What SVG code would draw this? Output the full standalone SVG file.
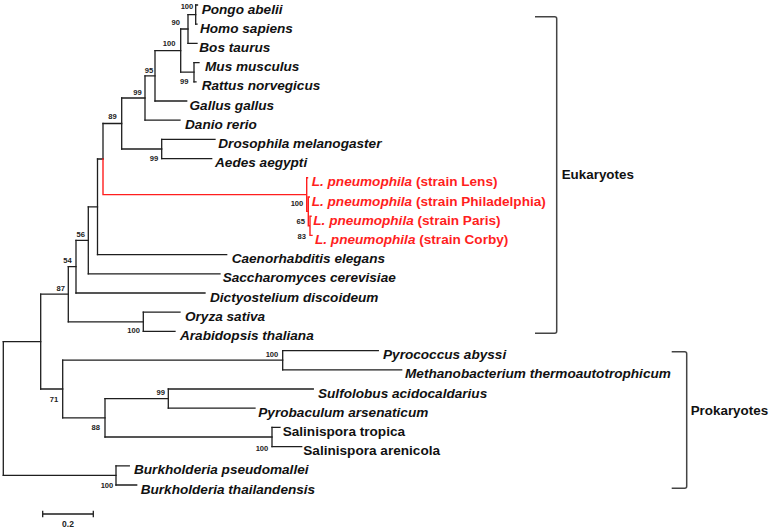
<svg xmlns="http://www.w3.org/2000/svg" width="772" height="530" viewBox="0 0 772 530">
<style>
.e{fill:none;stroke:#1e1e1e;stroke-width:1.3;stroke-linecap:square}
.r{fill:none;stroke:#ff1e1e;stroke-width:1.4;stroke-linecap:square}
.br{fill:none;stroke:#444;stroke-width:1.5}
text{font-family:"Liberation Sans",Arial,sans-serif;font-weight:bold}
.lf{font-size:13.6px;font-style:italic;fill:#111}
.up{font-size:13.6px;fill:#111}
.lp{font-size:13.6px;fill:#ff1e1e}
.it{font-style:italic}
.bs{font-size:7.6px;fill:#222;text-anchor:end}
.grp{font-size:13.4px;fill:#111}
.sc{font-size:8.5px;fill:#222;text-anchor:middle}
</style>
<rect width="772" height="530" fill="#fff"/>
<g id="connectors">
<path class="e" d="M195.7,5V24.2 M188,14.6V43.4 M194,62.6V81.8 M180.7,29V72.2 M155,50.6V101 M145,75.8V120.2 M161.7,139.4V158.6 M121.7,98V149 M103,123.5V159 M97.5,159V254.6 M88.3,206.8V273.8 M76,240.3V293 M143.3,312.2V331.4 M68.3,266.7V321.8 M282.7,350.6V369.8 M168.3,389V408.2 M272,427.4V446.6 M105,398.6V437 M62.7,360.2V417.8 M40.7,294.2V389 M116,465.8V485 M3.3,341.6V475.4"/>
<path class="e" d="M195.7,5H197.5 M195.7,24.2H197 M188,14.6H195.7 M188,43.4H197 M180.7,29H188 M194,62.6H199 M194,81.8H196 M180.7,72.2H194 M155,50.6H180.7 M155,101H186.7 M145,75.8H155 M145,120.2H180 M121.7,98H145 M161.7,139.4H215 M161.7,158.6H211.7 M121.7,149H161.7 M103,123.5H121.7 M97.5,159H103 M97.5,254.6H226.7 M88.3,206.8H97.5 M88.3,273.8H220 M76,240.3H88.3 M76,293H205 M68.3,266.7H76 M143.3,312.2H180 M143.3,331.4H175 M68.3,321.8H143.3 M40.7,294.2H68.3 M282.7,350.6H378.3 M282.7,369.8H401.7 M62.7,360.2H282.7 M168.3,389H313.3 M168.3,408.2H255 M105,398.6H168.3 M272,427.4H280 M272,446.6H301.7 M105,437H272 M62.7,417.8H105 M40.7,389H62.7 M3.3,341.6H40.7 M116,465.8H129.3 M116,485H136.7 M3.3,475.4H116"/>
<path class="r" d="M103,159V194.6H306.7 M306.7,177.8V211.4 M306.7,177.8H307.5 M308.3,197V225.8 M306.7,211.4H308.3 M308.3,197H309.3 M310,216.2V235.4 M308.3,225.8H310 M310,216.2H311 M310,235.4H312"/>
</g>
<g id="leaves">
<g id="n-pongo"><text class="lf" x="201.7" y="13.5">Pongo abelii</text></g>
<g id="n-homo"><text class="lf" x="200" y="32.7">Homo sapiens</text></g>
<g id="n-bos"><text class="lf" x="199.3" y="51.9">Bos taurus</text></g>
<g id="n-mus"><text class="lf" x="205" y="71.1">Mus musculus</text></g>
<g id="n-rattus"><text class="lf" x="201.7" y="90.3">Rattus norvegicus</text></g>
<g id="n-gallus"><text class="lf" x="189.5" y="109.5">Gallus gallus</text></g>
<g id="n-danio"><text class="lf" x="185" y="128.7">Danio rerio</text></g>
<g id="n-dros"><text class="lf" x="218.3" y="147.9">Drosophila melanogaster</text></g>
<g id="n-aedes"><text class="lf" x="215" y="167.1">Aedes aegypti</text></g>
<g id="n-lens"><text class="lp" x="311.7" y="186.3"><tspan class="it">L. pneumophila</tspan> (strain Lens)</text></g>
<g id="n-phil"><text class="lp" x="311.7" y="205.5"><tspan class="it">L. pneumophila</tspan> (strain Philadelphia)</text></g>
<g id="n-paris"><text class="lp" x="313.3" y="224.7"><tspan class="it">L. pneumophila</tspan> (strain Paris)</text></g>
<g id="n-corby"><text class="lp" x="315" y="243.9"><tspan class="it">L. pneumophila</tspan> (strain Corby)</text></g>
<g id="n-caeno"><text class="lf" x="231.7" y="263.1">Caenorhabditis elegans</text></g>
<g id="n-sacch"><text class="lf" x="222.7" y="282.3">Saccharomyces cerevisiae</text></g>
<g id="n-dicty"><text class="lf" x="210" y="301.5">Dictyostelium discoideum</text></g>
<g id="n-oryza"><text class="lf" x="185" y="320.7">Oryza sativa</text></g>
<g id="n-arab"><text class="lf" x="180" y="339.9">Arabidopsis thaliana</text></g>
<g id="n-pyroc"><text class="lf" x="383" y="359.1">Pyrococcus abyssi</text></g>
<g id="n-meth"><text class="lf" x="405" y="378.3">Methanobacterium thermoautotrophicum</text></g>
<g id="n-sulf"><text class="lf" x="318" y="397.5">Sulfolobus acidocaldarius</text></g>
<g id="n-pyrob"><text class="lf" x="258.3" y="416.7">Pyrobaculum arsenaticum</text></g>
<g id="n-salt"><text class="up" x="282.7" y="435.9">Salinispora tropica</text></g>
<g id="n-sala"><text class="up" x="303.3" y="455.1">Salinispora arenicola</text></g>
<g id="n-bp"><text class="lf" x="134" y="474.3">Burkholderia pseudomallei</text></g>
<g id="n-bt"><text class="lf" x="140.7" y="493.5">Burkholderia thailandensis</text></g>
</g>
<g id="bootstrap">
<text class="bs" x="193.3" y="8.5">100</text>
<text class="bs" x="180" y="25.2">90</text>
<text class="bs" x="175.5" y="46">100</text>
<text class="bs" x="188.5" y="83.5">99</text>
<text class="bs" x="153.3" y="73">95</text>
<text class="bs" x="141.7" y="95.2">99</text>
<text class="bs" x="116.7" y="119.4">89</text>
<text class="bs" x="158.3" y="160.8">99</text>
<text class="bs" x="303.3" y="206">100</text>
<text class="bs" x="305" y="224">65</text>
<text class="bs" x="306" y="239">83</text>
<text class="bs" x="85" y="236.7">56</text>
<text class="bs" x="71.7" y="262.7">54</text>
<text class="bs" x="65" y="291.2">87</text>
<text class="bs" x="140" y="332.7">100</text>
<text class="bs" x="278.3" y="357">100</text>
<text class="bs" x="165" y="395.2">99</text>
<text class="bs" x="58.3" y="402.2">71</text>
<text class="bs" x="100" y="430.2">88</text>
<text class="bs" x="268.3" y="450.6">100</text>
<text class="bs" x="113.3" y="487.7">100</text>
</g>
<g id="g-euk">
<path class="br" d="M535,16.7H554.7Q556.7,16.7 556.7,18.7V331.3Q556.7,333.3 554.7,333.3H535"/>
<text class="grp" x="561.7" y="178.5">Eukaryotes</text>
</g>
<g id="g-prok">
<path class="br" d="M671.7,351.7H684.7Q686.7,351.7 686.7,353.7V486.3Q686.7,488.3 684.7,488.3H671.7"/>
<text class="grp" x="690.7" y="414.5">Prokaryotes</text>
</g>
<g id="scale">
<path class="e" d="M42.7,514H93.3 M42.7,511.5V516.5 M93.3,511.5V516.5"/>
<text class="sc" x="68" y="526.5">0.2</text>
</g>
</svg>
